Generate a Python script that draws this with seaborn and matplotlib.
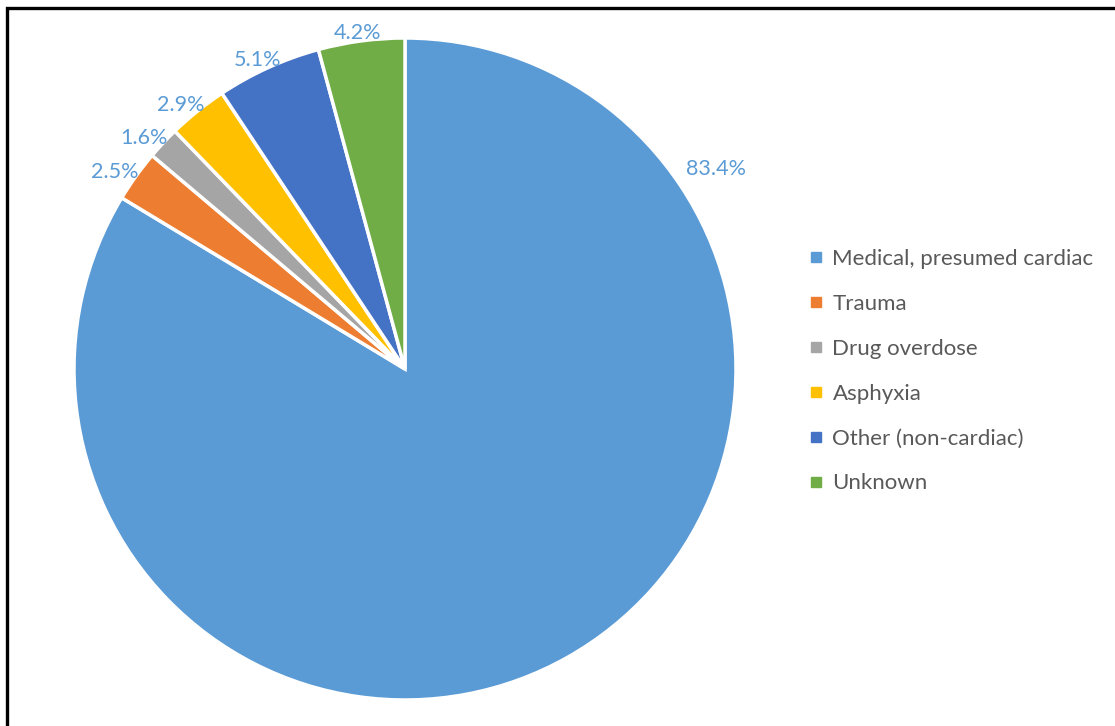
import numpy as np
import matplotlib
matplotlib.use("Agg")
import matplotlib.pyplot as plt
from matplotlib.lines import Line2D
from matplotlib.patches import Rectangle
import seaborn as sns

# Causes of arrest and their shares (%)
categories = ["Medical, presumed cardiac", "Trauma", "Drug overdose",
              "Asphyxia", "Other (non-cardiac)", "Unknown"]
shares = [83.4, 2.5, 1.6, 2.9, 5.1, 4.2]
label_texts = ["83.4%", "2.5%", "1.6%", "2.9%", "5.1%", "4.2%"]
slice_colors = ["#5B9BD5", "#ED7D31", "#A5A5A5", "#FFC000", "#4472C4", "#70AD47"]

sns.set_theme(style="white")
plt.rcParams["font.family"] = ["Lato", "DejaVu Sans"]

W, H = 1115, 726
fig = plt.figure(figsize=(W / 100, H / 100), dpi=100)
fig.patch.set_facecolor("white")

cx, cy, r = 405, 369, 331
ax = fig.add_axes([(cx - r) / W, (H - cy - r) / H, 2 * r / W, 2 * r / H])
palette = sns.color_palette(slice_colors)

wedges, _ = ax.pie(shares, colors=palette, startangle=90, counterclock=False,
                   wedgeprops=dict(edgecolor="white", linewidth=2.5))
ax.set_xlim(-1, 1)
ax.set_ylim(-1, 1)
ax.set_aspect("auto")
ax.axis("off")

# Percentage labels: each small wedge's label is pushed outward from the
# rim of its wedge by an elliptical offset (text is wider than tall); the
# large wedge's label sits in the open space at the upper right
label_color = "#5B9BD5"
off_x, off_y = 19.0, 7.4   # points
for i, (w, txt) in enumerate(zip(wedges, label_texts)):
    if i == 0:
        a = np.deg2rad(33.0)
        ax.text(1.12 * np.cos(a), 1.12 * np.sin(a), txt, ha="center",
                va="center_baseline", color=label_color, fontsize=15.5,
                clip_on=False)
        continue
    a = np.deg2rad(0.5 * (w.theta1 + w.theta2))
    ax.annotate(txt, xy=(np.cos(a), np.sin(a)), xycoords="data",
                xytext=(off_x * np.cos(a), off_y * np.sin(a)),
                textcoords="offset points", ha="center",
                va="center_baseline", color=label_color, fontsize=15.5,
                annotation_clip=False)

handles = [Line2D([0], [0], marker="s", linestyle="none", markersize=7,
                  markerfacecolor=c, markeredgecolor=c) for c in palette]
leg = fig.legend(handles, categories, loc="upper left",
                 bbox_to_anchor=(798 / W, (H - 240) / H), frameon=False,
                 fontsize=16, labelspacing=1.12, handlelength=0.8,
                 handletextpad=0.35, borderaxespad=0)
for t in leg.get_texts():
    t.set_color("#595959")

# Frame along the left and top edges
fig.patches.append(Rectangle((7 / W, -0.1), 1.2, (H - 8) / H + 0.1,
                             transform=fig.transFigure, fill=False,
                             edgecolor="black", linewidth=2.4))

fig.savefig("out.png", dpi=100, facecolor="white")
